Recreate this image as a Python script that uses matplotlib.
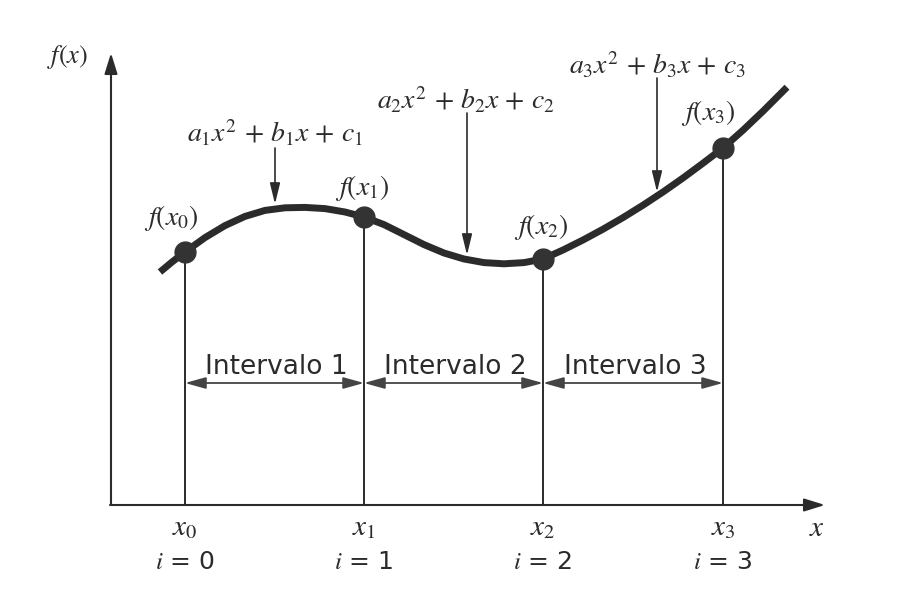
import matplotlib.pyplot as plt

plt.rcParams['mathtext.fontset'] = 'stix'
plt.rcParams['font.family'] = 'DejaVu Sans'

# curve (origin at the axes corner, 1 unit = 1 px)
curve_x = [49, 61, 74, 94, 114, 134, 154, 174, 194, 214, 234, 253,
           273, 293, 313, 333, 353, 373, 393, 413, 432,
           452, 472, 492, 512, 532, 552, 572, 592, 612, 632, 652, 676]
curve_y = [233, 243, 253, 267.4, 279.4, 288.6, 294.6, 297.2, 297.6, 296.4, 293, 288,
           280.4, 270.4, 260.4, 252, 246, 242.4, 241.2, 242.4, 246,
           255, 265, 275.8, 287.4, 299.8, 313, 327, 341.8, 357, 374.8, 393.8, 417.8]

knot_x = [74, 253, 432, 612]
knot_y = [253, 288, 246, 357]
knot_labels = [r'$f(x_0)$', r'$f(x_1)$', r'$f(x_2)$', r'$f(x_3)$']
tick_labels = [r'$x_0$', r'$x_1$', r'$x_2$', r'$x_3$']
index_labels = ['$i$ = 0', '$i$ = 1', '$i$ = 2', '$i$ = 3']
interval_labels = ['Intervalo 1', 'Intervalo 2', 'Intervalo 3']
poly_labels = [r'$a_1x^2\,+\,b_1x\,+\,c_1$', r'$a_2x^2\,+\,b_2x\,+\,c_2$',
               r'$a_3x^2\,+\,b_3x\,+\,c_3$']

ink = '#2b2b2b'
fig = plt.figure(figsize=(9.15, 6.06), dpi=100)
ax = fig.add_axes([0, 0, 1, 1])
ax.set_xlim(-111, 804)
ax.set_ylim(-101, 505)
ax.axis('off')

# axes with arrows
ax.annotate('', xy=(0, 452), xytext=(0, 0),
            arrowprops=dict(arrowstyle='-|>,head_length=0.9,head_width=0.28', lw=1.5,
                            color=ink, shrinkA=0, shrinkB=0, mutation_scale=14))
ax.annotate('', xy=(714, 0), xytext=(-1, 0),
            arrowprops=dict(arrowstyle='-|>,head_length=0.9,head_width=0.28', lw=1.5,
                            color=ink, shrinkA=0, shrinkB=0, mutation_scale=14))
ax.text(-43, 448, r'$f(x)$', fontsize=19, color=ink, ha='center', va='center')
ax.text(706, -23, r'$x$', fontsize=21, color=ink, ha='center', va='center')

# vertical lines from the knots
for kx, ky in zip(knot_x, knot_y):
    ax.plot([kx, kx], [0, ky], color=ink, lw=1.4)

# spline curve and knots
ax.plot(curve_x, curve_y, color=ink, lw=5, solid_joinstyle='round', solid_capstyle='butt')
ax.plot(knot_x, knot_y, 'o', color='#333333', markersize=15, zorder=5)

knot_lab_pos = [(60, 287), (251, 317), (430, 278), (597, 392)]
for lab, (tx, ty) in zip(knot_labels, knot_lab_pos):
    ax.text(tx, ty, lab, fontsize=20, color=ink, ha='center', va='center')

for kx, lab, ilab in zip(knot_x, tick_labels, index_labels):
    ax.text(kx, -22, lab, fontsize=21, color=ink, ha='center', va='center')
    ax.text(kx, -57, ilab, fontsize=18, color=ink, ha='center', va='center')

# intervals
for i, lab in enumerate(interval_labels):
    ax.annotate('', xy=(knot_x[i + 1], 122), xytext=(knot_x[i], 122),
                arrowprops=dict(arrowstyle='<|-|>,head_length=0.9,head_width=0.25', lw=1.3,
                                color='#444444', shrinkA=0, shrinkB=0, mutation_scale=14))
    ax.text((knot_x[i] + knot_x[i + 1]) / 2 + 2, 138, lab, fontsize=19, color=ink,
            ha='center', va='center')

# polynomial labels with pointers
poly_text_pos = [(164, 372), (355, 405), (546, 440)]
poly_arrow_x = [164, 356, 546]
poly_arrow_top = [357, 392, 427]
poly_arrow_tip = [301, 250, 313]
for lab, (tx, ty), axx, top, tip in zip(poly_labels, poly_text_pos, poly_arrow_x,
                                        poly_arrow_top, poly_arrow_tip):
    ax.text(tx, ty, lab, fontsize=20, color=ink, ha='center', va='center')
    ax.annotate('', xy=(axx, tip), xytext=(axx, top),
                arrowprops=dict(arrowstyle='-|>,head_length=0.9,head_width=0.22', lw=1.2,
                                color=ink, shrinkA=0, shrinkB=0, mutation_scale=14))

fig.savefig('out.png', dpi=100, facecolor='white')
